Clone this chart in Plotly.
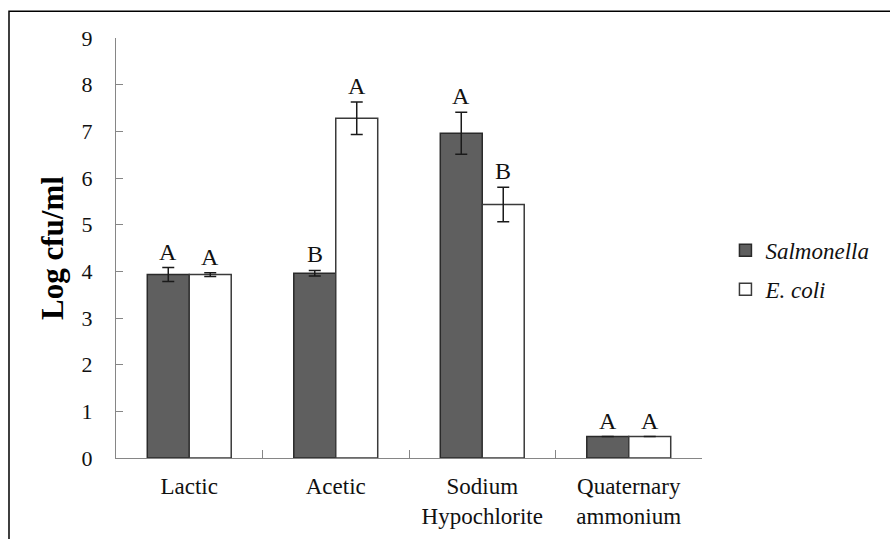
import plotly.graph_objects as go

categories = ["Lactic", "Acetic", "Sodium<br>Hypochlorite", "Quaternary<br>ammonium"]
salmonella = [3.93, 3.96, 6.96, 0.46]
salmonella_err = [0.15, 0.06, 0.45, 0.0]
salmonella_letters = ["A", "B", "A", "A"]
ecoli = [3.93, 7.28, 5.43, 0.46]
ecoli_err = [0.04, 0.35, 0.37, 0.0]
ecoli_letters = ["A", "A", "B", "A"]

serif = "Liberation Serif"
axis_gray = "#868686"

fig = go.Figure()
fig.add_trace(go.Bar(
    x=categories, y=salmonella, name="<i>Salmonella</i>",
    marker=dict(color="#5f5f5f", line=dict(color="#2a2a2a", width=1.5)),
    error_y=dict(type="data", array=salmonella_err, visible=True,
                 color="#1a1a1a", thickness=1.5, width=6),
    legendgroup="s",
))
fig.add_trace(go.Bar(
    x=categories, y=ecoli, name="<i>E. coli</i>",
    marker=dict(color="#ffffff", line=dict(color="#3a3a3a", width=1.5)),
    error_y=dict(type="data", array=ecoli_err, visible=True,
                 color="#1a1a1a", thickness=1.5, width=6),
    legendgroup="e",
))

for vals, errs, letters, shift in [(salmonella, salmonella_err, salmonella_letters, -21),
                                    (ecoli, ecoli_err, ecoli_letters, 21)]:
    for c, v, e, l in zip(categories, vals, errs, letters):
        fig.add_annotation(x=c, y=v + e, text=l, showarrow=False, xref="x", yref="y",
                           xshift=shift, yshift=1, yanchor="bottom",
                           font=dict(family=serif, size=24, color="#111"))

# outer frame (left and top edges visible)
fig.add_shape(type="path", xref="paper", yref="paper",
              path="M -0.1826 -0.3 L -0.1826 1.0635 L 1.5 1.0635",
              line=dict(color="#000", width=1.5), layer="below")

fig.update_layout(
    width=890, height=539,
    margin=dict(l=116, r=188, t=38, b=81),
    paper_bgcolor="white", plot_bgcolor="white",
    barmode="group", bargap=0.427, bargroupgap=0,
    font=dict(family=serif, size=21, color="#111"),
    showlegend=True,
    legend=dict(x=1.04, y=0.448, xanchor="left", yanchor="middle",
                traceorder="grouped", tracegroupgap=6,
                font=dict(family=serif, size=23, color="#111"),
                bgcolor="rgba(0,0,0,0)"),
    xaxis=dict(showline=True, linecolor=axis_gray, linewidth=1, automargin=False,
               ticks="inside", ticklen=8, tickcolor=axis_gray, tickson="boundaries",
               tickfont=dict(family=serif, size=23, color="#111"),
               ticklabelstandoff=7, showgrid=False),
    yaxis=dict(range=[0, 9], dtick=1, showline=True, linecolor=axis_gray, linewidth=1,
               automargin=False,
               ticks="inside", ticklen=7, tickcolor=axis_gray,
               tickfont=dict(family=serif, size=22, color="#111"),
               ticklabelstandoff=18, showgrid=False, zeroline=False,
               title=dict(text="<b>Log cfu/ml</b>", standoff=8,
                          font=dict(family=serif, size=31, color="#000"))),
)

fig.write_html("out.html")
